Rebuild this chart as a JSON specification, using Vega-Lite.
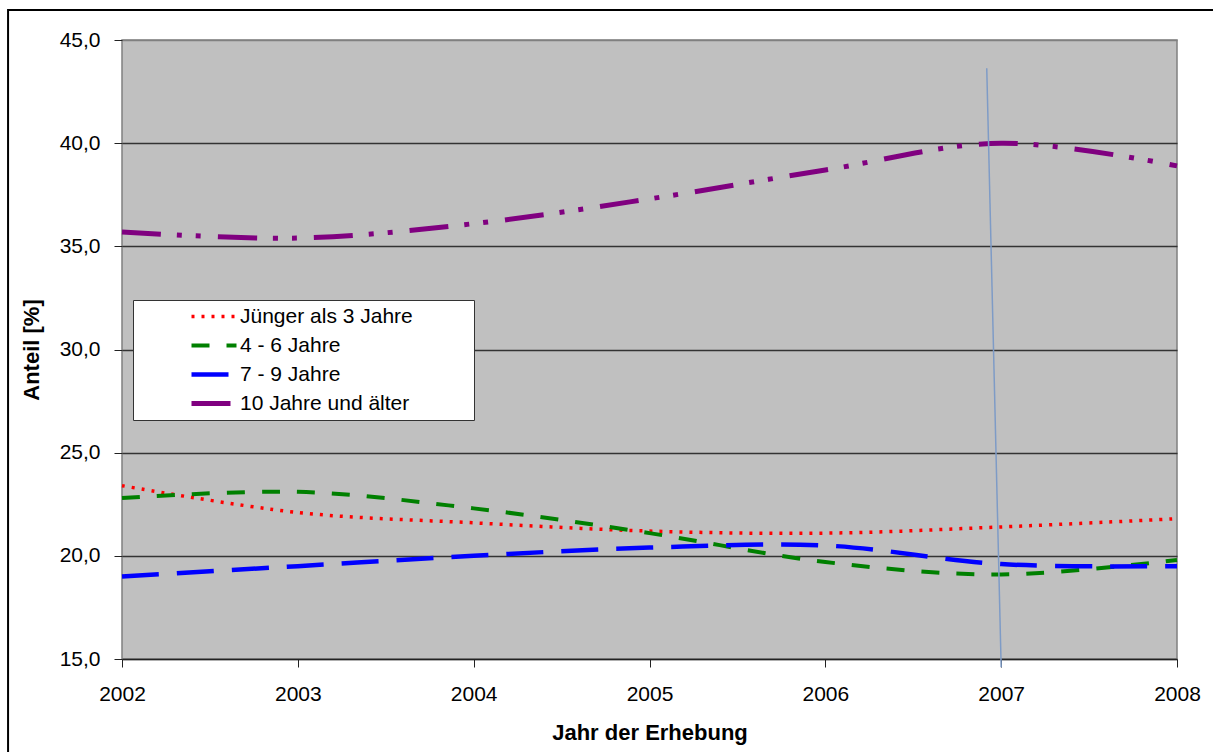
{
  "$schema": "https://vega.github.io/schema/vega-lite/v6.json",
  "width": 1055,
  "height": 619,
  "autosize": {"type": "none"},
  "padding": {"left": 122, "top": 40, "right": 36, "bottom": 93},
  "background": "white",
  "config": {
    "font": "Liberation Sans",
    "view": {"fill": "#C0C0C0", "stroke": "#808080", "strokeWidth": 1.5},
    "axis": {
      "labelFont": "Liberation Sans",
      "labelFontSize": 21,
      "labelColor": "#000000",
      "labelFlush": false,
      "titleFont": "Liberation Sans",
      "titleFontSize": 22,
      "titleFontWeight": "bold",
      "titleColor": "#000000",
      "tickColor": "#222222",
      "tickSize": 8
    },
    "legend": {
      "fillColor": "#FFFFFF",
      "strokeColor": "#333333",
      "padding": 2,
      "symbolType": "stroke",
      "symbolSize": 2025,
      "symbolStrokeWidth": 4,
      "symbolOffset": 54,
      "labelOffset": 1,
      "labelFont": "Liberation Sans",
      "labelFontSize": 21,
      "labelColor": "#000000",
      "labelLimit": 500,
      "clipHeight": 29,
      "rowPadding": 0
    }
  },
  "layer": [
    {
      "data": {"values": [{}]},
      "mark": {"type": "rect", "filled": false, "stroke": "#000000", "strokeWidth": 2},
      "encoding": {
        "x": {"datum": 2001.352, "type": "quantitative", "title": "Jahr der Erhebung"},
        "x2": {"datum": 2009},
        "y": {"datum": 46.46, "type": "quantitative", "title": "Anteil [%]"},
        "y2": {"datum": 10}
      }
    },
    {
      "data": {
        "values": [
          {"jahr": 2002, "gruppe": "Jünger als 3 Jahre", "anteil": 23.4},
          {"jahr": 2003, "gruppe": "Jünger als 3 Jahre", "anteil": 22.1},
          {"jahr": 2004, "gruppe": "Jünger als 3 Jahre", "anteil": 21.6},
          {"jahr": 2005, "gruppe": "Jünger als 3 Jahre", "anteil": 21.2},
          {"jahr": 2006, "gruppe": "Jünger als 3 Jahre", "anteil": 21.1},
          {"jahr": 2007, "gruppe": "Jünger als 3 Jahre", "anteil": 21.4},
          {"jahr": 2008, "gruppe": "Jünger als 3 Jahre", "anteil": 21.8},
          {"jahr": 2002, "gruppe": "4 - 6 Jahre", "anteil": 22.8},
          {"jahr": 2003, "gruppe": "4 - 6 Jahre", "anteil": 23.1},
          {"jahr": 2004, "gruppe": "4 - 6 Jahre", "anteil": 22.3},
          {"jahr": 2005, "gruppe": "4 - 6 Jahre", "anteil": 21.1},
          {"jahr": 2006, "gruppe": "4 - 6 Jahre", "anteil": 19.7},
          {"jahr": 2007, "gruppe": "4 - 6 Jahre", "anteil": 19.1},
          {"jahr": 2008, "gruppe": "4 - 6 Jahre", "anteil": 19.8},
          {"jahr": 2002, "gruppe": "7 - 9 Jahre", "anteil": 19.0},
          {"jahr": 2003, "gruppe": "7 - 9 Jahre", "anteil": 19.5},
          {"jahr": 2004, "gruppe": "7 - 9 Jahre", "anteil": 20.0},
          {"jahr": 2005, "gruppe": "7 - 9 Jahre", "anteil": 20.4},
          {"jahr": 2006, "gruppe": "7 - 9 Jahre", "anteil": 20.5},
          {"jahr": 2007, "gruppe": "7 - 9 Jahre", "anteil": 19.6},
          {"jahr": 2008, "gruppe": "7 - 9 Jahre", "anteil": 19.5},
          {"jahr": 2002, "gruppe": "10 Jahre und älter", "anteil": 35.7},
          {"jahr": 2003, "gruppe": "10 Jahre und älter", "anteil": 35.4},
          {"jahr": 2004, "gruppe": "10 Jahre und älter", "anteil": 36.1},
          {"jahr": 2005, "gruppe": "10 Jahre und älter", "anteil": 37.3},
          {"jahr": 2006, "gruppe": "10 Jahre und älter", "anteil": 38.7},
          {"jahr": 2007, "gruppe": "10 Jahre und älter", "anteil": 40.0},
          {"jahr": 2008, "gruppe": "10 Jahre und älter", "anteil": 38.9}
        ]
      },
      "mark": {"type": "line", "interpolate": "cardinal", "strokeCap": "butt"},
      "encoding": {
        "x": {
          "field": "jahr",
          "type": "quantitative",
          "title": "Jahr der Erhebung",
          "scale": {"domain": [2002, 2008], "nice": false, "zero": false},
          "axis": {
            "values": [2002, 2003, 2004, 2005, 2006, 2007, 2008],
            "format": "d",
            "grid": false,
            "domainColor": "#222222",
            "domainWidth": 1.5,
            "labelPadding": 16,
            "titlePadding": 18
          }
        },
        "y": {
          "field": "anteil",
          "type": "quantitative",
          "title": "Anteil [%]",
          "scale": {"domain": [15, 45], "nice": false, "zero": false},
          "axis": {
            "values": [15, 20, 25, 30, 35, 40, 45],
            "labelExpr": "replace(format(datum.value, '.1f'), '.', ',')",
            "domain": false,
            "grid": true,
            "gridColor": {"condition": {"test": "datum.value == 45 || datum.value == 15", "value": "#808080"}, "value": "#333333"},
            "gridWidth": 1.3,
            "labelPadding": 14,
            "titlePadding": 16
          }
        },
        "color": {
          "field": "gruppe",
          "type": "nominal",
          "scale": {
            "domain": ["Jünger als 3 Jahre", "4 - 6 Jahre", "7 - 9 Jahre", "10 Jahre und älter"],
            "range": ["#FF0000", "#008000", "#0000FF", "#800080"]
          },
          "legend": {
            "title": null,
            "orient": "none",
            "legendX": 11,
            "legendY": 260,
            "labelExpr": "datum.label + '\u00a0\u00a0\u00a0\u00a0\u00a0\u00a0\u00a0\u00a0\u00a0\u00a0\u200b'"
          }
        },
        "strokeDash": {
          "field": "gruppe",
          "type": "nominal",
          "scale": {
            "domain": ["Jünger als 3 Jahre", "4 - 6 Jahre", "7 - 9 Jahre", "10 Jahre und älter"],
            "range": [[3, 7], [18, 17], [37, 18], [39, 16, 5, 14, 5, 17]]
          },
          "legend": {
            "title": null,
            "orient": "none",
            "legendX": 11,
            "legendY": 260,
            "labelExpr": "datum.label + '\u00a0\u00a0\u00a0\u00a0\u00a0\u00a0\u00a0\u00a0\u00a0\u00a0\u200b'"
          }
        },
        "strokeWidth": {
          "field": "gruppe",
          "type": "nominal",
          "scale": {
            "domain": ["Jünger als 3 Jahre", "4 - 6 Jahre", "7 - 9 Jahre", "10 Jahre und älter"],
            "range": [3.5, 5, 5.5, 5]
          },
          "legend": null
        }
      }
    },
    {
      "data": {"values": [{}]},
      "mark": {"type": "rule", "color": "#7E9BC6", "strokeWidth": 1.5},
      "encoding": {
        "x": {"datum": 2006.918, "type": "quantitative", "title": "Jahr der Erhebung"},
        "y": {"datum": 43.63, "type": "quantitative", "title": "Anteil [%]"},
        "x2": {"datum": 2007.0},
        "y2": {"datum": 14.6}
      }
    }
  ]
}
